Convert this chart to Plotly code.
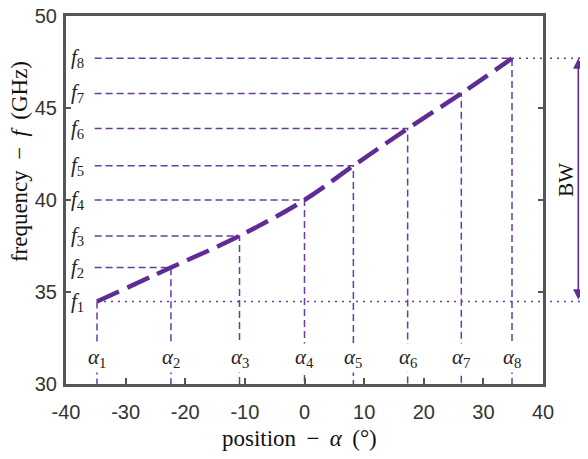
import plotly.graph_objects as go

# Data
alpha = [-34.8, -22.4, -10.9, 0.0, 8.2, 17.3, 26.3, 34.8]
freq = [34.48, 36.33, 38.05, 40.0, 41.86, 43.88, 45.79, 47.7]
x_ticks = [-40, -30, -20, -10, 0, 10, 20, 30, 40]
y_ticks = [30, 35, 40, 45, 50]
x_ticktext = [str(v) for v in x_ticks]
y_ticktext = [str(v) for v in y_ticks]
f_labels = ["<i>f</i><sub>%d</sub>" % (i + 1) for i in range(8)]
a_labels = ["<i>α</i><sub>%d</sub>" % (i + 1) for i in range(8)]

X_MIN, X_MAX = -40, 40
Y_MIN, Y_MAX = 30, 50
H_START = -35.2      # where horizontal guide lines start
A_LABEL_Y = 31.4     # height of alpha labels

PURPLE = "#5F2C94"
PURPLE_L = "#6A3CA0"
AXC = "#555555"
SERIF = "Liberation Serif, Times New Roman, serif"
SANS = "Liberation Sans, Arial, sans-serif"

fig = go.Figure()

# L-shaped guide lines (horizontal from left, vertical down to axis)
for i in range(len(alpha)):
    if i == 0:
        xs, ys = [alpha[i], alpha[i]], [freq[i], Y_MIN]
    else:
        xs = [H_START, alpha[i], alpha[i]]
        ys = [freq[i], freq[i], Y_MIN]
    fig.add_trace(go.Scatter(x=xs, y=ys, mode="lines",
                             line=dict(color=PURPLE_L, width=1.5, dash="7px,4px"),
                             hoverinfo="skip", showlegend=False))

# dotted lines at f1 and f8 to the right edge
for i in (0, len(alpha) - 1):
    fig.add_trace(go.Scatter(x=[alpha[i], X_MAX], y=[freq[i], freq[i]], mode="lines",
                             line=dict(color=PURPLE_L, width=1.5, dash="2px,5px"),
                             hoverinfo="skip", showlegend=False))
    fig.add_shape(type="line", xref="paper", yref="y", x0=1.0, x1=1.079,
                  y0=freq[i], y1=freq[i],
                  line=dict(color=PURPLE_L, width=1.5, dash="2px,5px"))

# main curve
fig.add_trace(go.Scatter(x=alpha, y=freq, mode="lines",
                         line=dict(color=PURPLE, width=4.5, dash="24px,9px", shape="spline",
                                   smoothing=1.0),
                         hoverinfo="skip", showlegend=False))

ann = []
for i in range(len(alpha)):
    ann.append(dict(x=0.006, xref="paper", y=freq[i], yref="y", text=f_labels[i],
                    showarrow=False, xanchor="left", yanchor="middle",
                    font=dict(family=SERIF, size=21, color="#222")))
    ann.append(dict(x=alpha[i], xref="x", y=A_LABEL_Y, yref="y", text=a_labels[i],
                    showarrow=False, xanchor="center", yanchor="middle",
                    bgcolor="white", borderpad=1,
                    font=dict(family=SERIF, size=21, color="#222")))

# BW arrow (double headed)
ann.append(dict(x=1.074, xref="paper", y=freq[-1], yref="y",
                ax=0, axref="pixel", ay=freq[0], ayref="y", text=" ",
                font=dict(size=1),
                showarrow=True, arrowhead=2, startarrowhead=2, arrowside="end+start",
                arrowsize=1.3, startarrowsize=1.3, standoff=0, startstandoff=0,
                arrowwidth=1.6, arrowcolor=PURPLE))
ann.append(dict(x=1.048, xref="paper", y=(freq[0] + freq[-1]) / 2, yref="y",
                text="BW", textangle=-90, showarrow=False,
                xanchor="center", yanchor="middle",
                font=dict(family=SERIF, size=21, color="#111")))

# axis titles
ann.append(dict(x=-0.0985, xref="paper", y=0.603, yref="paper",
                text="frequency\u2009 − \u2009<i>f</i>\u2009 (GHz)", textangle=-90,
                showarrow=False, xanchor="center", yanchor="middle",
                font=dict(family=SERIF, size=23, color="#111")))
ann.append(dict(x=0.49, xref="paper", y=-0.147, yref="paper",
                text="position\u2009 − \u2009<i>α</i>\u2009 (°)", showarrow=False,
                xanchor="center", yanchor="middle",
                font=dict(family=SERIF, size=23, color="#111")))

# the page body adds an 8px margin, so the figure is shifted accordingly
fig.update_layout(
    width=580, height=443,
    margin=dict(l=58, r=45, t=8, b=67, autoexpand=False),
    plot_bgcolor="white", paper_bgcolor="white",
    annotations=ann,
    showlegend=False,
)
fig.update_xaxes(range=[X_MIN, X_MAX], tickvals=x_ticks, ticktext=x_ticktext,
                 ticks="inside", ticklen=6, automargin=False, ticklabelstandoff=8,
                 ticklabeloverflow="allow",
                 tickwidth=2, tickcolor=AXC, showline=True, linewidth=3, linecolor=AXC,
                 mirror=True, showgrid=False, zeroline=False,
                 tickfont=dict(family=SANS, size=20, color="#333"))
fig.update_yaxes(range=[Y_MIN, Y_MAX], tickvals=y_ticks, ticktext=y_ticktext,
                 ticks="inside", ticklen=5, automargin=False, ticklabelstandoff=2,
                 ticklabeloverflow="allow",
                 tickwidth=2, tickcolor=AXC, showline=True, linewidth=3, linecolor=AXC,
                 mirror="ticks", showgrid=False, zeroline=False,
                 tickfont=dict(family=SANS, size=20, color="#333"))

fig.write_html("out.html")
